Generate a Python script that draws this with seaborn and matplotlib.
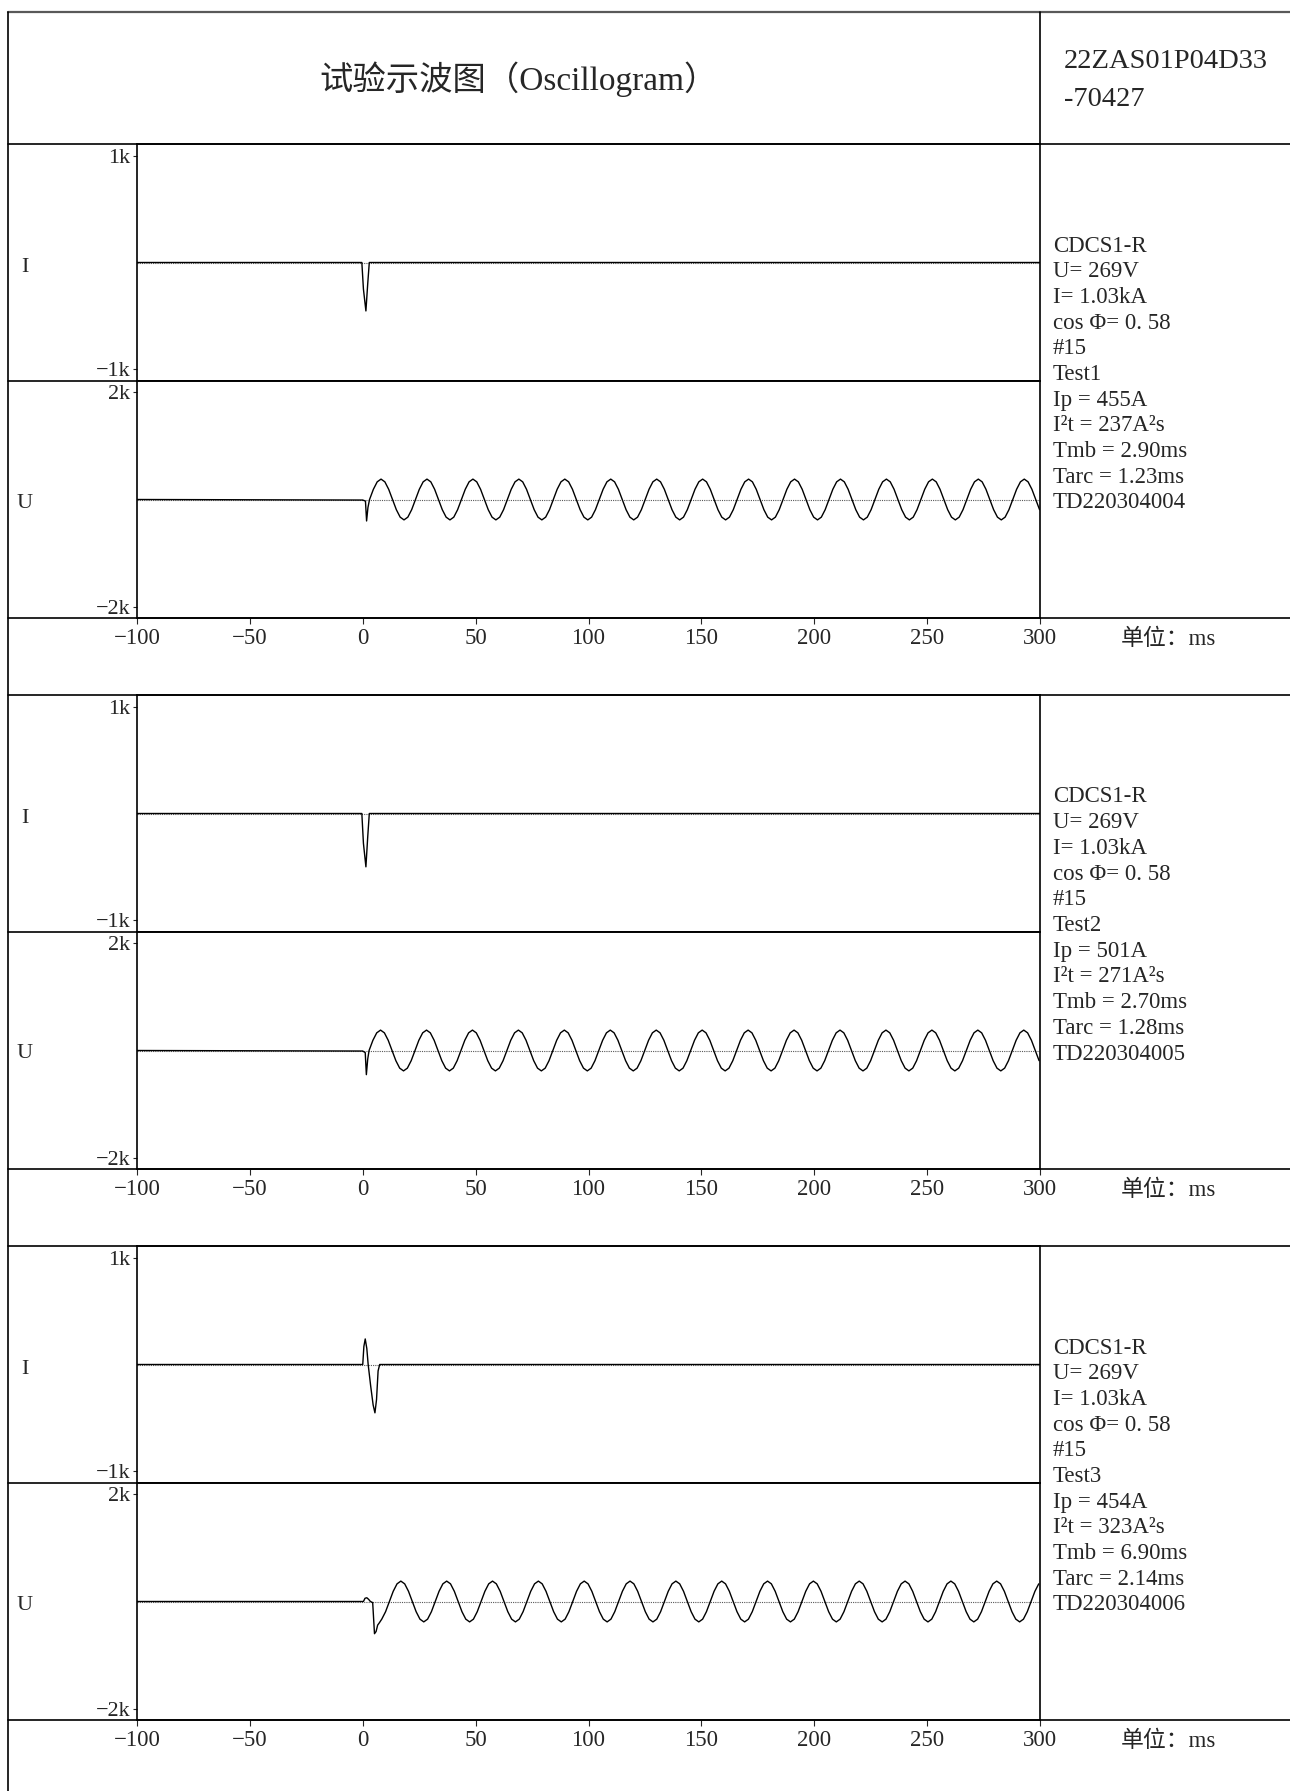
import numpy as np
import matplotlib
matplotlib.use("Agg")
import matplotlib.pyplot as plt
from matplotlib.lines import Line2D
import seaborn as sns

# header texts
title = '试验示波图（Oscillogram）'
report_no = ['22ZAS01P04D33', '-70427']

# shot info (right column)
device = 'CDCS1-R'
u_rated = 'U= 269V'
i_rated = 'I= 1.03kA'
cos_phi = 'cos Φ= 0. 58'
sample_no = '#15'
tests = ['Test1', 'Test2', 'Test3']
ip = [455, 501, 454]
i2t = [237, 271, 323]
tmb = [2.90, 2.70, 6.90]
tarc = [1.23, 1.28, 2.14]
records = ['TD220304004', 'TD220304005', 'TD220304006']

x_ticks = [-100, -50, 0, 50, 100, 150, 200, 250, 300]
unit_label = '单位：ms'

# current traces, time in ms, value in A
i1_t = [-100, -0.4, 0.3, 1.4, 2.2, 2.9, 300]
i1_v = [0, 0, -250, -455, -200, 0, 0]
i2_t = [-100, -0.4, 0.3, 1.4, 2.2, 2.9, 300]
i2_v = [0, 0, -280, -501, -220, 0, 0]
i3_t = [-100, 0.0, 0.5, 1.1, 1.8, 2.4, 3.5, 4.6, 5.4, 6.1, 6.8, 7.5, 300]
i3_v = [0, 0, 170, 240, 150, 0, -200, -380, -454, -330, -60, 0, 0]

# voltage traces: event part before the recovery voltage
u1_pre_t = [-100, 0.0, 1.2, 1.7, 2.3]
u1_pre_v = [0, -10, -30, -400, -150]
u2_pre_t = [-100, 0.0, 1.1, 1.6, 2.2]
u2_pre_v = [0, -10, -40, -450, -160]
u3_pre_t = [-100, 0.3, 1.0, 1.8, 2.6, 3.4, 4.4, 5.2, 5.9, 6.6, 7.3]
u3_pre_v = [0, 0, 60, 70, 40, 0, -20, -600, -560, -440, -400]

# recovery voltage samples (first sample time, sample step in ms, values in V)
u1_start, u1_step = 3.01, 1.696
u1_wave = [
    0, 190, 329, 380, 329, 190, 0, -190, -329, -380, -329, -190,
    0, 190, 329, 380, 329, 190, 0, -190, -329, -380, -329, -190,
    0, 190, 329, 380, 329, 190, 0, -190, -329, -380, -329, -190,
    0, 190, 329, 380, 329, 190, 0, -190, -329, -380, -329, -190,
    0, 190, 329, 380, 329, 190, 0, -190, -329, -380, -329, -190,
    0, 190, 329, 380, 329, 190, 0, -190, -329, -380, -329, -190,
    0, 190, 329, 380, 329, 190, 0, -190, -329, -380, -329, -190,
    0, 190, 329, 380, 329, 190, 0, -190, -329, -380, -329, -190,
    0, 190, 329, 380, 329, 190, 0, -190, -329, -380, -329, -190,
    0, 190, 329, 380, 329, 190, 0, -190, -329, -380, -329, -190,
    0, 190, 329, 380, 329, 190, 0, -190, -329, -380, -329, -190,
    0, 190, 329, 380, 329, 190, 0, -190, -329, -380, -329, -190,
    0, 190, 329, 380, 329, 190, 0, -190, -329, -380, -329, -190,
    0, 190, 329, 380, 329, 190, 0, -190, -329, -380, -329, -190,
    0, 190, 329, 380, 329, 190, 0, -190,
]
u2_start, u2_step = 2.8, 1.696
u2_wave = [
    0, 190, 329, 380, 329, 190, 0, -190, -329, -380, -329, -190,
    0, 190, 329, 380, 329, 190, 0, -190, -329, -380, -329, -190,
    0, 190, 329, 380, 329, 190, 0, -190, -329, -380, -329, -190,
    0, 190, 329, 380, 329, 190, 0, -190, -329, -380, -329, -190,
    0, 190, 329, 380, 329, 190, 0, -190, -329, -380, -329, -190,
    0, 190, 329, 380, 329, 190, 0, -190, -329, -380, -329, -190,
    0, 190, 329, 380, 329, 190, 0, -190, -329, -380, -329, -190,
    0, 190, 329, 380, 329, 190, 0, -190, -329, -380, -329, -190,
    0, 190, 329, 380, 329, 190, 0, -190, -329, -380, -329, -190,
    0, 190, 329, 380, 329, 190, 0, -190, -329, -380, -329, -190,
    0, 190, 329, 380, 329, 190, 0, -190, -329, -380, -329, -190,
    0, 190, 329, 380, 329, 190, 0, -190, -329, -380, -329, -190,
    0, 190, 329, 380, 329, 190, 0, -190, -329, -380, -329, -190,
    0, 190, 329, 380, 329, 190, 0, -190, -329, -380, -329, -190,
    0, 190, 329, 380, 329, 190, 0, -190,
]
u3_start, u3_step = 8.42, 1.692
u3_wave = [
    -329, -190,
    0, 190, 329, 380, 329, 190, 0, -190, -329, -380, -329, -190,
    0, 190, 329, 380, 329, 190, 0, -190, -329, -380, -329, -190,
    0, 190, 329, 380, 329, 190, 0, -190, -329, -380, -329, -190,
    0, 190, 329, 380, 329, 190, 0, -190, -329, -380, -329, -190,
    0, 190, 329, 380, 329, 190, 0, -190, -329, -380, -329, -190,
    0, 190, 329, 380, 329, 190, 0, -190, -329, -380, -329, -190,
    0, 190, 329, 380, 329, 190, 0, -190, -329, -380, -329, -190,
    0, 190, 329, 380, 329, 190, 0, -190, -329, -380, -329, -190,
    0, 190, 329, 380, 329, 190, 0, -190, -329, -380, -329, -190,
    0, 190, 329, 380, 329, 190, 0, -190, -329, -380, -329, -190,
    0, 190, 329, 380, 329, 190, 0, -190, -329, -380, -329, -190,
    0, 190, 329, 380, 329, 190, 0, -190, -329, -380, -329, -190,
    0, 190, 329, 380, 329, 190, 0, -190, -329, -380, -329, -190,
    0, 190, 329, 380, 329, 190, 0, -190, -329, -380, -329, -190,
    0, 190, 329,
]

i_traces = [(i1_t, i1_v), (i2_t, i2_v), (i3_t, i3_v)]
u_traces = [(u1_pre_t, u1_pre_v, u1_start, u1_step, u1_wave),
            (u2_pre_t, u2_pre_v, u2_start, u2_step, u2_wave),
            (u3_pre_t, u3_pre_v, u3_start, u3_step, u3_wave)]

sns.set_style("ticks")
plt.rcParams['font.family'] = ['Liberation Serif', 'Noto Sans CJK SC']
plt.rcParams['axes.unicode_minus'] = True

W, H = 1290, 1791
fig = plt.figure(figsize=(W / 100, H / 100), dpi=100)


def fx(px):
    return px / W


def fy(py):
    return 1 - py / H


def hline(y, x0=8, x1=W, lw=1.2, color='black'):
    fig.add_artist(Line2D([fx(x0), fx(x1)], [fy(y), fy(y)], transform=fig.transFigure,
                          color=color, lw=lw))


def vline(x, y0, y1, lw=1.2):
    fig.add_artist(Line2D([fx(x), fx(x)], [fy(y0), fy(y1)], transform=fig.transFigure,
                          color='black', lw=lw))


# frame of the header
hline(12, lw=1.6, color='0.35')
vline(8, 12, H)
vline(1040, 12, 144)
fig.text(fx(519), fy(79), title, ha='center', va='center', fontsize=24)
fig.text(fx(1064), fy(62), report_no[0], ha='left', va='center', fontsize=20.5)
fig.text(fx(1064), fy(99), report_no[1], ha='left', va='center', fontsize=20.5)

ax_left, ax_right = 137, 1040
panel_h = 237
for k in range(3):
    top = 144 + 551 * k
    hline(top)
    hline(top + panel_h, x1=ax_right)
    hline(top + 2 * panel_h)

    ax_i = fig.add_axes([fx(ax_left), fy(top + panel_h), fx(ax_right - ax_left), panel_h / H])
    ax_u = fig.add_axes([fx(ax_left), fy(top + 2 * panel_h), fx(ax_right - ax_left), panel_h / H])

    t, v = i_traces[k]
    sns.lineplot(x=t, y=v, ax=ax_i, color='black', lw=1.0, estimator=None, sort=False)

    pre_t, pre_v, st, dt, wave = u_traces[k]
    ut = np.concatenate([pre_t, st + dt * np.arange(len(wave))])
    uv = np.concatenate([pre_v, wave])
    sns.lineplot(x=ut, y=uv, ax=ax_u, color='black', lw=1.0, estimator=None, sort=False)

    for ax, lim, ticks, labels in ((ax_i, 1113, [-1000, 1000], ['−1k', '1k']),
                                   (ax_u, 2208, [-2000, 2000], ['−2k', '2k'])):
        ax.axhline(0, color='0.35', lw=0.8, ls=(0, (1, 1)), zorder=1)
        ax.set_xlim(-100, 300)
        ax.set_ylim(-lim, lim)
        ax.set_yticks(ticks)
        ax.set_yticklabels(labels)
        ax.set_xlabel('')
        ax.set_ylabel('')
        ax.tick_params(axis='y', direction='out', length=3, width=0.8, labelsize=16, pad=2)
        for s in ax.spines.values():
            s.set_linewidth(1.2)
            s.set_color('black')
    ax_i.set_xticks([])
    ax_u.set_xticks(x_ticks)
    ax_u.set_xticklabels([f'{x}'.replace('-', '−') for x in x_ticks])
    ax_u.tick_params(axis='x', direction='out', length=4, width=0.8, labelsize=16.5, pad=3)

    fig.text(fx(25), fy(top + 123), 'I', ha='center', va='center', fontsize=16)
    fig.text(fx(25), fy(top + 359), 'U', ha='center', va='center', fontsize=16)
    fig.text(fx(1168), fy(top + 2 * panel_h + 21), unit_label, ha='center', va='center', fontsize=16.5)

    info = [device, u_rated, i_rated, cos_phi, sample_no, tests[k],
            f'Ip = {ip[k]}A', f'I²t = {i2t[k]}A²s', f'Tmb = {tmb[k]:.2f}ms',
            f'Tarc = {tarc[k]:.2f}ms', records[k]]
    for j, line in enumerate(info):
        fig.text(fx(1053), fy(top + 102 + 25.7 * j), line, ha='left', va='center', fontsize=16.5)

fig.savefig('out.png', dpi=100)
